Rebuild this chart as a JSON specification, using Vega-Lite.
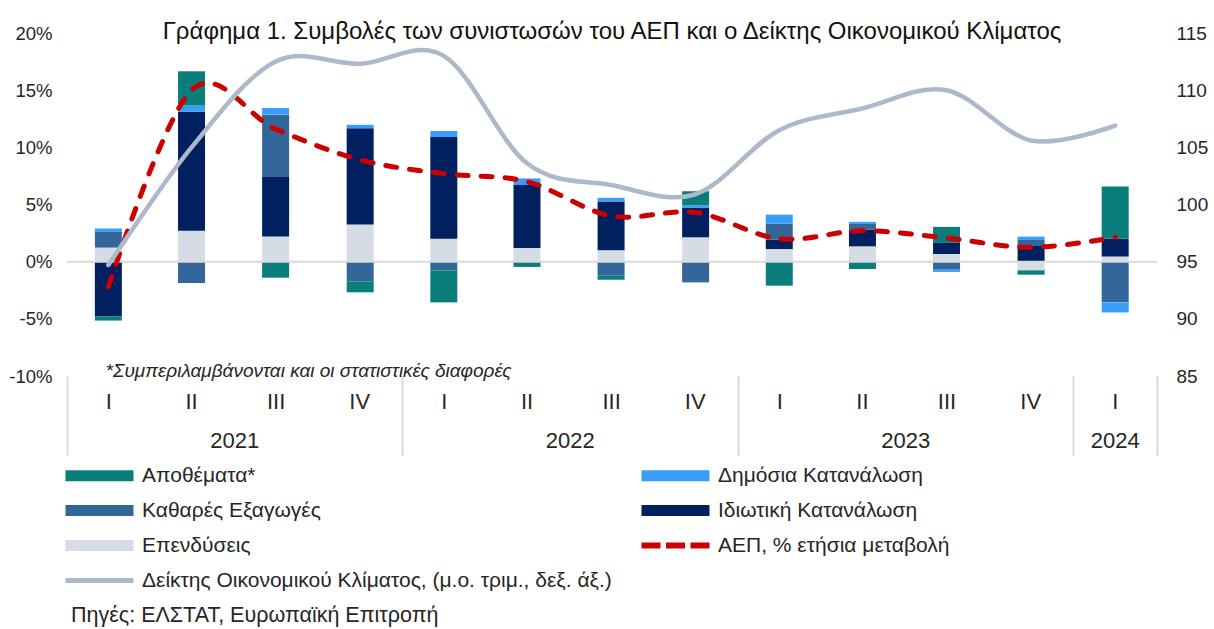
{
  "$schema": "https://vega.github.io/schema/vega-lite/v6.json",
  "width": 1090,
  "height": 343,
  "autosize": "none",
  "padding": {"left": 67, "top": 33, "right": 57, "bottom": 253},
  "background": "white",
  "config": {
    "view": {"stroke": null},
    "font": "Liberation Sans",
    "axis": {"labelFont": "Liberation Sans", "labelColor": "#262626", "grid": false, "domain": false, "ticks": false, "title": null}
  },
  "title": {
    "text": "Γράφημα 1. Συμβολές των συνιστωσών του ΑΕΠ και ο Δείκτης Οικονομικού Κλίματος",
    "font": "Liberation Sans",
    "fontSize": 24,
    "fontWeight": "normal",
    "color": "#111111",
    "anchor": "middle",
    "frame": "group",
    "baseline": "alphabetic",
    "offset": -39
  },
  "datasets": {
    "bars": [
      {"date": "2021/01/01", "c": "Επενδύσεις", "v": 1.23, "rank": 1},
      {"date": "2021/01/01", "c": "Ιδιωτική Κατανάλωση", "v": -4.8, "rank": 2},
      {"date": "2021/01/01", "c": "Καθαρές Εξαγωγές", "v": 1.37, "rank": 3},
      {"date": "2021/01/01", "c": "Δημόσια Κατανάλωση", "v": 0.3, "rank": 4},
      {"date": "2021/01/01", "c": "Αποθέματα*", "v": -0.35, "rank": 5},
      {"date": "2021/04/01", "c": "Επενδύσεις", "v": 2.7, "rank": 1},
      {"date": "2021/04/01", "c": "Ιδιωτική Κατανάλωση", "v": 10.4, "rank": 2},
      {"date": "2021/04/01", "c": "Καθαρές Εξαγωγές", "v": -1.87, "rank": 3},
      {"date": "2021/04/01", "c": "Δημόσια Κατανάλωση", "v": 0.55, "rank": 4},
      {"date": "2021/04/01", "c": "Αποθέματα*", "v": 3.0, "rank": 5},
      {"date": "2021/07/01", "c": "Επενδύσεις", "v": 2.2, "rank": 1},
      {"date": "2021/07/01", "c": "Ιδιωτική Κατανάλωση", "v": 5.2, "rank": 2},
      {"date": "2021/07/01", "c": "Καθαρές Εξαγωγές", "v": 5.46, "rank": 3},
      {"date": "2021/07/01", "c": "Δημόσια Κατανάλωση", "v": 0.58, "rank": 4},
      {"date": "2021/07/01", "c": "Αποθέματα*", "v": -1.4, "rank": 5},
      {"date": "2021/10/01", "c": "Επενδύσεις", "v": 3.24, "rank": 1},
      {"date": "2021/10/01", "c": "Ιδιωτική Κατανάλωση", "v": 8.43, "rank": 2},
      {"date": "2021/10/01", "c": "Καθαρές Εξαγωγές", "v": -1.72, "rank": 3},
      {"date": "2021/10/01", "c": "Δημόσια Κατανάλωση", "v": 0.3, "rank": 4},
      {"date": "2021/10/01", "c": "Αποθέματα*", "v": -0.96, "rank": 5},
      {"date": "2022/01/01", "c": "Επενδύσεις", "v": 2.0, "rank": 1},
      {"date": "2022/01/01", "c": "Ιδιωτική Κατανάλωση", "v": 8.9, "rank": 2},
      {"date": "2022/01/01", "c": "Καθαρές Εξαγωγές", "v": -0.76, "rank": 3},
      {"date": "2022/01/01", "c": "Δημόσια Κατανάλωση", "v": 0.53, "rank": 4},
      {"date": "2022/01/01", "c": "Αποθέματα*", "v": -2.8, "rank": 5},
      {"date": "2022/04/01", "c": "Επενδύσεις", "v": 1.2, "rank": 1},
      {"date": "2022/04/01", "c": "Ιδιωτική Κατανάλωση", "v": 5.5, "rank": 2},
      {"date": "2022/04/01", "c": "Καθαρές Εξαγωγές", "v": 0.0, "rank": 3},
      {"date": "2022/04/01", "c": "Δημόσια Κατανάλωση", "v": 0.58, "rank": 4},
      {"date": "2022/04/01", "c": "Αποθέματα*", "v": -0.46, "rank": 5},
      {"date": "2022/07/01", "c": "Επενδύσεις", "v": 1.0, "rank": 1},
      {"date": "2022/07/01", "c": "Ιδιωτική Κατανάλωση", "v": 4.26, "rank": 2},
      {"date": "2022/07/01", "c": "Καθαρές Εξαγωγές", "v": -1.23, "rank": 3},
      {"date": "2022/07/01", "c": "Δημόσια Κατανάλωση", "v": 0.32, "rank": 4},
      {"date": "2022/07/01", "c": "Αποθέματα*", "v": -0.35, "rank": 5},
      {"date": "2022/10/01", "c": "Επενδύσεις", "v": 2.13, "rank": 1},
      {"date": "2022/10/01", "c": "Ιδιωτική Κατανάλωση", "v": 2.57, "rank": 2},
      {"date": "2022/10/01", "c": "Καθαρές Εξαγωγές", "v": -1.81, "rank": 3},
      {"date": "2022/10/01", "c": "Δημόσια Κατανάλωση", "v": 0.23, "rank": 4},
      {"date": "2022/10/01", "c": "Αποθέματα*", "v": 1.23, "rank": 5},
      {"date": "2023/01/01", "c": "Επενδύσεις", "v": 1.1, "rank": 1},
      {"date": "2023/01/01", "c": "Ιδιωτική Κατανάλωση", "v": 0.82, "rank": 2},
      {"date": "2023/01/01", "c": "Καθαρές Εξαγωγές", "v": 1.4, "rank": 3},
      {"date": "2023/01/01", "c": "Δημόσια Κατανάλωση", "v": 0.79, "rank": 4},
      {"date": "2023/01/01", "c": "Αποθέματα*", "v": -2.1, "rank": 5},
      {"date": "2023/04/01", "c": "Επενδύσεις", "v": 1.34, "rank": 1},
      {"date": "2023/04/01", "c": "Ιδιωτική Κατανάλωση", "v": 1.46, "rank": 2},
      {"date": "2023/04/01", "c": "Καθαρές Εξαγωγές", "v": 0.5, "rank": 3},
      {"date": "2023/04/01", "c": "Δημόσια Κατανάλωση", "v": 0.18, "rank": 4},
      {"date": "2023/04/01", "c": "Αποθέματα*", "v": -0.64, "rank": 5},
      {"date": "2023/07/01", "c": "Επενδύσεις", "v": 0.67, "rank": 1},
      {"date": "2023/07/01", "c": "Ιδιωτική Κατανάλωση", "v": 1.02, "rank": 2},
      {"date": "2023/07/01", "c": "Καθαρές Εξαγωγές", "v": -0.7, "rank": 3},
      {"date": "2023/07/01", "c": "Δημόσια Κατανάλωση", "v": -0.2, "rank": 4},
      {"date": "2023/07/01", "c": "Αποθέματα*", "v": 1.35, "rank": 5},
      {"date": "2023/10/01", "c": "Επενδύσεις", "v": -0.76, "rank": 1},
      {"date": "2023/10/01", "c": "Ιδιωτική Κατανάλωση", "v": 1.37, "rank": 2},
      {"date": "2023/10/01", "c": "Καθαρές Εξαγωγές", "v": 0.53, "rank": 3},
      {"date": "2023/10/01", "c": "Δημόσια Κατανάλωση", "v": 0.29, "rank": 4},
      {"date": "2023/10/01", "c": "Αποθέματα*", "v": -0.38, "rank": 5},
      {"date": "2024/01/01", "c": "Επενδύσεις", "v": 0.45, "rank": 1},
      {"date": "2024/01/01", "c": "Ιδιωτική Κατανάλωση", "v": 1.55, "rank": 2},
      {"date": "2024/01/01", "c": "Καθαρές Εξαγωγές", "v": -3.56, "rank": 3},
      {"date": "2024/01/01", "c": "Δημόσια Κατανάλωση", "v": -0.88, "rank": 4},
      {"date": "2024/01/01", "c": "Αποθέματα*", "v": 4.58, "rank": 5}
    ],
    "lines": [
      {"date": "2021/01/01", "gdp": -2.2, "esi": 94.7},
      {"date": "2021/04/01", "gdp": 15.0, "esi": 105.0},
      {"date": "2021/07/01", "gdp": 11.6, "esi": 112.5},
      {"date": "2021/10/01", "gdp": 8.9, "esi": 112.3},
      {"date": "2022/01/01", "gdp": 7.7, "esi": 113.0},
      {"date": "2022/04/01", "gdp": 7.0, "esi": 103.6},
      {"date": "2022/07/01", "gdp": 4.0, "esi": 101.7},
      {"date": "2022/10/01", "gdp": 4.3, "esi": 100.9},
      {"date": "2023/01/01", "gdp": 2.0, "esi": 106.5},
      {"date": "2023/04/01", "gdp": 2.7, "esi": 108.4},
      {"date": "2023/07/01", "gdp": 2.07, "esi": 110.0},
      {"date": "2023/10/01", "gdp": 1.25, "esi": 105.6},
      {"date": "2024/01/01", "gdp": 2.13, "esi": 106.9}
    ],
    "note": [
      {"date": "2021/02/12", "y": -9.6, "t": "*Συμπεριλαμβάνονται και οι στατιστικές διαφορές"}
    ]
  },
  "layer": [
    {
      "layer": [
        {
          "data": {"name": "bars"},
          "mark": {"type": "bar", "width": 27},
          "encoding": {
            "x": {
              "field": "date", "type": "temporal", "timeUnit": "yearquarter", "bandPosition": 0.5,
              "scale": {"domain": [{"year": 2021, "month": 1, "date": 1}, {"year": 2024, "month": 4, "date": 1}]},
              "axis": {
                "orient": "bottom",
                "values": [
                  {"year": 2021, "month": 2, "date": 15}, {"year": 2021, "month": 5, "date": 16}, {"year": 2021, "month": 8, "date": 16}, {"year": 2021, "month": 11, "date": 15},
                  {"year": 2022, "month": 2, "date": 15}, {"year": 2022, "month": 5, "date": 16}, {"year": 2022, "month": 8, "date": 16}, {"year": 2022, "month": 11, "date": 15},
                  {"year": 2023, "month": 2, "date": 15}, {"year": 2023, "month": 5, "date": 16}, {"year": 2023, "month": 8, "date": 16}, {"year": 2023, "month": 11, "date": 15},
                  {"year": 2024, "month": 2, "date": 15}
                ],
                "labelExpr": "['I','II','III','IV'][floor(month(datum.value)/3)]",
                "labelFontSize": 22, "labelPadding": 15, "labelAngle": 0, "labelAlign": "center", "labelOverlap": false, "labelFlush": false
              }
            },
            "y": {
              "field": "v", "type": "quantitative", "stack": "zero",
              "scale": {"domain": [-10, 20], "nice": false, "zero": false},
              "axis": {
                "values": [-10, -7.5, -5, -2.5, 0, 2.5, 5, 7.5, 10, 12.5, 15, 17.5, 20],
                "labelExpr": "(datum.value < 0 ? '-' : '') + round(abs(datum.value)) + '%'",
                "labelFontSize": 18.5, "labelPadding": 15, "labelOverlap": false, "labelFlush": false
              }
            },
            "color": {
              "field": "c", "type": "nominal",
              "scale": {
                "domain": ["Αποθέματα*", "Καθαρές Εξαγωγές", "Επενδύσεις", "Δείκτης Οικονομικού Κλίματος, (μ.ο. τριμ., δεξ. άξ.)", "Δημόσια Κατανάλωση", "Ιδιωτική Κατανάλωση", "ΑΕΠ, % ετήσια μεταβολή"],
                "range": ["#0A7E7A", "#336699", "#D6DCE5", "#ADB9CA", "#3A9EF8", "#002060", "#CC0000"]
              },
              "legend": {
                "orient": "none", "legendX": 4, "legendY": 432,
                "columns": 2, "columnPadding": 29, "rowPadding": 13, "padding": 0,
                "symbolSize": 400, "labelOffset": 32, "labelLimit": 0,
                "labelFont": "Liberation Sans", "labelFontSize": 21, "labelColor": "#262626",
                "title": "Πηγές: ΕΛΣΤΑΤ, Ευρωπαϊκή Επιτροπή",
                "titleOrient": "bottom", "titleAnchor": "start", "titleFont": "Liberation Sans",
                "titleFontSize": 21.5, "titleFontWeight": "normal", "titleColor": "#262626", "titlePadding": 14, "titleLimit": 0,
                "encode": {
                  "title": {"update": {"dx": {"value": -18}}},
                  "symbols": {
                    "update": {
                      "shape": {"signal": "datum.value === 'ΑΕΠ, % ετήσια μεταβολή' ? 'M-3.4,-0.3H-1.5V0.3H-3.4Z M-0.95,-0.3H0.95V0.3H-0.95Z M1.5,-0.3H3.4V0.3H1.5Z' : (datum.value === 'Δείκτης Οικονομικού Κλίματος, (μ.ο. τριμ., δεξ. άξ.)' ? 'M-3.4,-0.24H3.4V0.24H-3.4Z' : 'M-3.4,-0.55H3.4V0.55H-3.4Z')"},
                      "fill": {"signal": "scale('color', datum.value)"},
                      "strokeWidth": {"value": 0},
                      "opacity": {"value": 1},
                      "size": {"value": 400}
                    }
                  }
                }
              }
            },
            "order": {"field": "rank", "type": "quantitative"}
          }
        },
        {
          "data": {"name": "note"},
          "mark": {"type": "rule", "color": "#D9D9D9", "strokeWidth": 2},
          "encoding": {"y": {"datum": 0, "type": "quantitative"}}
        },
        {
          "data": {"name": "note"},
          "mark": {"type": "text", "align": "left", "baseline": "middle", "font": "Liberation Sans", "fontStyle": "italic", "fontSize": 19, "color": "#262626"},
          "encoding": {
            "x": {"field": "date", "type": "temporal", "axis": null},
            "y": {"field": "y", "type": "quantitative"},
            "text": {"field": "t"}
          }
        },
        {
          "data": {"name": "lines"},
          "mark": {"type": "line", "strokeWidth": 5, "strokeCap": "round", "interpolate": "cardinal"},
          "encoding": {
            "x": {
              "field": "date", "type": "temporal", "timeUnit": "yearquarter", "bandPosition": 0.5,
              "axis": {
                "orient": "bottom",
                "values": [{"year": 2021, "month": 7, "date": 2}, {"year": 2022, "month": 7, "date": 2}, {"year": 2023, "month": 7, "date": 2}, {"year": 2024, "month": 2, "date": 15}],
                "labelExpr": "year(datum.value)",
                "labelFontSize": 22, "labelPadding": 54, "labelAngle": 0, "labelAlign": "center", "labelOverlap": false, "labelFlush": false
              }
            },
            "y": {"field": "gdp", "type": "quantitative"},
            "color": {"datum": "ΑΕΠ, % ετήσια μεταβολή"},
            "strokeDash": {"value": [11, 13]}
          }
        }
      ],
      "resolve": {"axis": {"x": "independent"}}
    },
    {
      "data": {"name": "lines"},
      "mark": {"type": "line", "strokeWidth": 4.5, "strokeCap": "round", "interpolate": "cardinal"},
      "encoding": {
        "x": {
          "field": "date", "type": "temporal", "timeUnit": "yearquarter", "bandPosition": 0.5,
          "axis": {
            "orient": "bottom",
            "values": [{"year": 2021, "month": 1, "date": 1}, {"year": 2022, "month": 1, "date": 1}, {"year": 2023, "month": 1, "date": 1}, {"year": 2024, "month": 1, "date": 1}, {"year": 2024, "month": 4, "date": 1}],
            "labels": false, "ticks": true, "tickSize": 79, "tickWidth": 2, "tickColor": "#D9D9D9"
          }
        },
        "y": {
          "field": "esi", "type": "quantitative",
          "scale": {"domain": [85, 115], "nice": false, "zero": false},
          "axis": {"orient": "right", "values": [85, 90, 95, 100, 105, 110, 115], "labelFontSize": 19, "labelPadding": 19}
        },
        "color": {"datum": "Δείκτης Οικονομικού Κλίματος, (μ.ο. τριμ., δεξ. άξ.)"}
      }
    }
  ],
  "resolve": {"scale": {"y": "independent"}, "axis": {"x": "independent"}}
}
